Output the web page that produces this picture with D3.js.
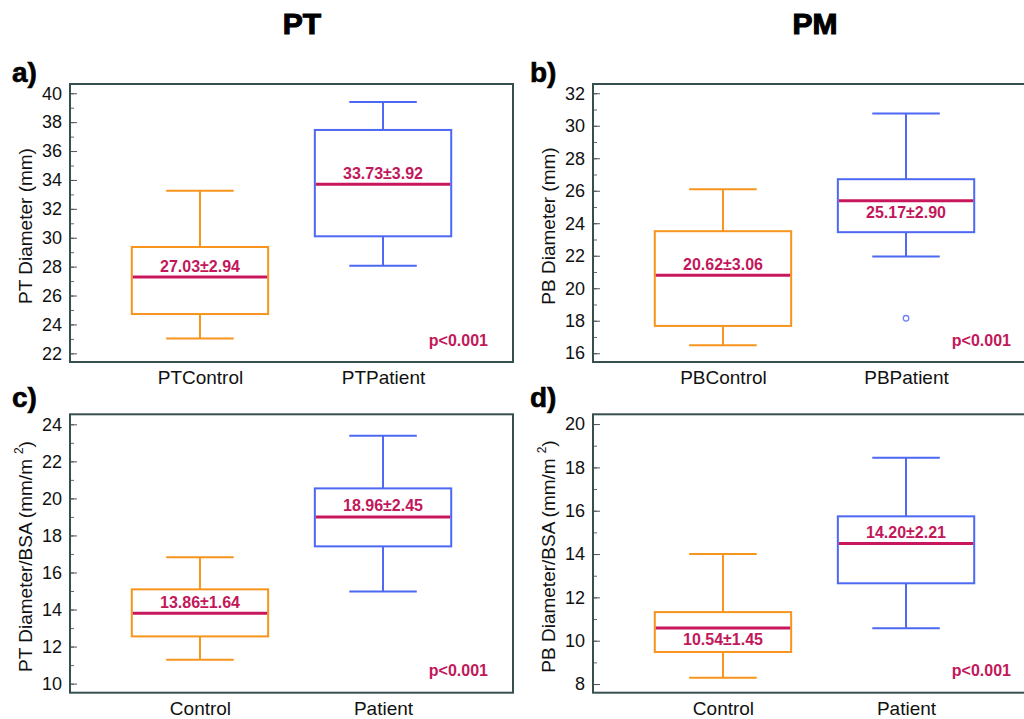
<!DOCTYPE html>
<html><head><meta charset="utf-8">
<script src="https://cdn.jsdelivr.net/npm/d3@7"></script>
<style>
body{margin:0;background:#fff;}
svg{display:block;font-family:"Liberation Sans",Arial,sans-serif;}
</style></head>
<body><svg id="chart" width="1024" height="719"></svg>
<script>
// ---- data ----
const columnTitles = ['PT', 'PM'];
const panelLetters = ['a)', 'b)', 'c)', 'd)'];
const yAxisTitles = ['PT Diameter (mm)', 'PB Diameter (mm)', 'PT Diameter/BSA (mm/m', 'PB Diameter/BSA (mm/m'];
const yAxisSuperscript = ['', '', '2', '2'];
const categories = [['PTControl', 'PTPatient'], ['PBControl', 'PBPatient'], ['Control', 'Patient'], ['Control', 'Patient']];
const whiskerLow  = [[23.03, 28.06], [16.49, 21.95], [11.29, 14.98], [8.29, 10.57]];
const q1          = [[24.72, 30.10], [17.68, 23.45], [12.55, 17.41], [9.48, 12.65]];
const median      = [[27.28, 33.70], [20.80, 25.39], [13.80, 19.00], [10.59, 14.49]];
const q3          = [[29.36, 37.46], [23.51, 26.71], [15.09, 20.54], [11.32, 15.74]];
const whiskerHigh = [[33.26, 39.40], [26.09, 30.75], [16.82, 23.38], [14.00, 18.45]];
const outliers    = [[[], []], [[], [18.15]], [[], []], [[], []]];
const meanSdLabels = [['27.03±2.94', '33.73±3.92'], ['20.62±3.06', '25.17±2.90'], ['13.86±1.64', '18.96±2.45'], ['10.54±1.45', '14.20±2.21']];
const labelSide = [['above', 'above'], ['above', 'below'], ['above', 'above'], ['below', 'above']];
const pValueLabels = ['p<0.001', 'p<0.001', 'p<0.001', 'p<0.001'];
const yMajorTicks = [d3.range(22, 41, 2), d3.range(16, 33, 2), d3.range(10, 25, 2), d3.range(8, 21, 2)];
const yMinorTicks = [d3.range(22, 41, 1), d3.range(16, 33, 1), d3.range(10, 25, 1), d3.range(8, 21, 1)];
const yDomains = [[21.4, 40.64], [15.46, 32.57], [9.51, 24.54], [7.6, 20.45]];

// ---- layout / style ----
const boxColors = ['#F7941D', '#4D68F2'];
const medianColor = '#C8175D';
const labelColor = '#C2185B';
const frameColor = '#37504F';
const panelPos = [
  {x: 70, y: 84, w: 443, h: 278},
  {x: 593, y: 84, w: 443, h: 278},
  {x: 70, y: 414.3, w: 443, h: 278.4},
  {x: 593, y: 414.3, w: 443, h: 278.4}
];

const svg = d3.select('#chart');

// column titles
const titleX = [302, 815];
columnTitles.forEach((t, i) => {
  svg.append('text').attr('x', titleX[i]).attr('y', 34)
    .attr('text-anchor', 'middle').attr('font-size', 30).attr('font-weight', 'bold')
    .attr('stroke', '#000').attr('stroke-width', 1.1)
    .text(t);
});

panelPos.forEach((p, k) => {
  const g = svg.append('g').attr('transform', `translate(${p.x},${p.y})`);
  const x = d3.scalePoint().domain(categories[k]).range([0, p.w]).padding(0.71);
  const y = d3.scaleLinear().domain(yDomains[k]).range([p.h, 0]);
  const step = x.step();
  const boxW = step * 0.745;
  const capW = boxW * 0.495;

  // panel letter
  svg.append('text').attr('x', p.x - (k % 2 === 0 ? 58 : 63)).attr('y', p.y - (k < 2 ? 2 : 7))
    .attr('font-size', 28).attr('font-weight', 'bold').attr('fill', '#000')
    .attr('stroke', '#000').attr('stroke-width', 0.6)
    .text(panelLetters[k]);

  // minor ticks
  const minor = g.append('g').call(d3.axisLeft(y).tickValues(yMinorTicks[k]).tickSize(-4).tickFormat(''));
  minor.select('.domain').remove();
  minor.selectAll('line').attr('stroke', '#666').attr('stroke-width', 1);
  // major ticks
  const major = g.append('g').call(d3.axisLeft(y).tickValues(yMajorTicks[k]).tickSize(-7).tickPadding(8));
  major.select('.domain').remove();
  major.selectAll('line').attr('stroke', '#555').attr('stroke-width', 1);
  major.selectAll('text').attr('font-size', 18).attr('fill', '#111')
    .attr('font-family', '"Liberation Sans",Arial,sans-serif');

  // x axis labels
  const xa = g.append('g').attr('transform', `translate(0,${p.h})`)
    .call(d3.axisBottom(x).tickSize(0).tickPadding(9));
  xa.select('.domain').remove();
  xa.selectAll('text').attr('font-size', 19).attr('fill', '#111')
    .attr('font-family', '"Liberation Sans",Arial,sans-serif');

  // y title
  const yt = g.append('text')
    .attr('transform', `translate(${-43},${p.h / 2 + 3}) rotate(-90)`)
    .attr('text-anchor', 'middle').attr('dominant-baseline', 'middle')
    .attr('font-size', 19).attr('fill', '#111');
  yt.append('tspan').text(yAxisTitles[k]);
  if (yAxisSuperscript[k]) {
    yt.append('tspan').attr('dx', 5).attr('dy', -7).attr('font-size', 12).text(yAxisSuperscript[k]);
    yt.append('tspan').attr('dy', 7).text(')');
  }

  // boxes
  categories[k].forEach((c, j) => {
    const cx = x(c);
    const col = boxColors[j];
    // whiskers
    g.append('line').attr('x1', cx).attr('x2', cx).attr('y1', y(q3[k][j])).attr('y2', y(whiskerHigh[k][j]))
      .attr('stroke', col).attr('stroke-width', 2);
    g.append('line').attr('x1', cx).attr('x2', cx).attr('y1', y(q1[k][j])).attr('y2', y(whiskerLow[k][j]))
      .attr('stroke', col).attr('stroke-width', 2);
    g.append('line').attr('x1', cx - capW / 2).attr('x2', cx + capW / 2)
      .attr('y1', y(whiskerHigh[k][j])).attr('y2', y(whiskerHigh[k][j]))
      .attr('stroke', col).attr('stroke-width', 2);
    g.append('line').attr('x1', cx - capW / 2).attr('x2', cx + capW / 2)
      .attr('y1', y(whiskerLow[k][j])).attr('y2', y(whiskerLow[k][j]))
      .attr('stroke', col).attr('stroke-width', 2);
    // box
    g.append('rect').attr('x', cx - boxW / 2).attr('y', y(q3[k][j]))
      .attr('width', boxW).attr('height', y(q1[k][j]) - y(q3[k][j]))
      .attr('fill', 'none').attr('stroke', col).attr('stroke-width', 2);
    // median
    g.append('line').attr('x1', cx - boxW / 2 + 1).attr('x2', cx + boxW / 2 - 1)
      .attr('y1', y(median[k][j])).attr('y2', y(median[k][j]))
      .attr('stroke', medianColor).attr('stroke-width', 3);
    // label
    const ly = y(median[k][j]) + (labelSide[k][j] === 'above' ? -11 : 12);
    g.append('text').attr('x', cx).attr('y', ly)
      .attr('text-anchor', 'middle').attr('dominant-baseline', 'central')
      .attr('font-size', 16).attr('font-weight', 'bold').attr('fill', labelColor)
      .text(meanSdLabels[k][j]);
    // outliers
    outliers[k][j].forEach(v => {
      g.append('circle').attr('cx', cx).attr('cy', y(v)).attr('r', 2.8)
        .attr('fill', 'none').attr('stroke', '#6F83F2').attr('stroke-width', 1.3);
    });
  });

  // p value
  g.append('text').attr('x', p.w - 25).attr('y', p.h - 22)
    .attr('text-anchor', 'end').attr('dominant-baseline', 'central')
    .attr('font-size', 16).attr('font-weight', 'bold').attr('fill', labelColor)
    .text(pValueLabels[k]);

  // frame
  g.append('rect').attr('x', 0).attr('y', 0).attr('width', p.w).attr('height', p.h)
    .attr('fill', 'none').attr('stroke', frameColor).attr('stroke-width', 2);
});
</script>
</body></html>
